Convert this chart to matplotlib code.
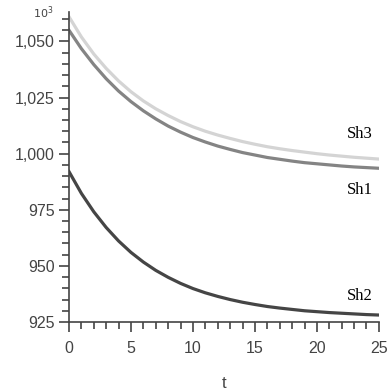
import matplotlib
matplotlib.use("Agg")
import matplotlib.pyplot as plt
from matplotlib.ticker import MultipleLocator, FuncFormatter

t = list(range(0, 26))
sh1 = [1055, 1046.8, 1039.7, 1033.4, 1027.9, 1023.2, 1019.1, 1015.5, 1012.3, 1009.6,
       1007.2, 1005.2, 1003.4, 1001.9, 1000.5, 999.4, 998.3, 997.5, 996.7, 996.0,
       995.5, 995.0, 994.5, 994.1, 993.8, 993.5]
sh2 = [992, 982.3, 974.1, 967.1, 961.1, 956.0, 951.7, 948.0, 944.9, 942.2,
       939.9, 938.0, 936.4, 935.0, 933.8, 932.8, 931.9, 931.2, 930.6, 930.0,
       929.6, 929.2, 928.9, 928.6, 928.3, 928.1]
sh3 = [1061, 1052.0, 1044.4, 1038.0, 1032.4, 1027.6, 1023.5, 1020.0, 1017.0, 1014.3,
       1012.0, 1010.0, 1008.3, 1006.8, 1005.4, 1004.2, 1003.1, 1002.2, 1001.4, 1000.7,
       1000.0, 999.4, 998.9, 998.4, 998.0, 997.6]

fig = plt.figure(figsize=(3.91, 3.92), dpi=100)
ax = fig.add_axes([0.1765, 0.1786, 0.7925, 0.79])

# lines
ax.plot(t, sh3, color="#d4d4d4", lw=2.3)
ax.plot(t, sh1, color="#848484", lw=2.3)
ax.plot(t, sh2, color="#454545", lw=2.3)

ax.set_xlim(0, 25)
ax.set_ylim(925, 1063)

for s in ["top", "right"]:
    ax.spines[s].set_visible(False)
for s in ["left", "bottom"]:
    ax.spines[s].set_color("#444444")
    ax.spines[s].set_linewidth(1.2)

ax.xaxis.set_major_locator(MultipleLocator(5))
ax.xaxis.set_minor_locator(MultipleLocator(1))
ax.yaxis.set_major_locator(MultipleLocator(25))
ax.yaxis.set_minor_locator(MultipleLocator(5))
ax.yaxis.set_major_formatter(FuncFormatter(lambda v, p: f"{int(v):,}"))

ax.tick_params(which="major", length=7, width=1.2, color="#444444",
               labelsize=11.5, labelcolor="#444444")
ax.tick_params(axis="x", which="major", pad=7)
ax.tick_params(which="minor", length=5, width=1.2, color="#444444")
for lab in ax.get_xticklabels() + ax.get_yticklabels():
    lab.set_family("Liberation Sans")

ax.set_xlabel("t", fontsize=12, color="#444444", family="Liberation Sans", labelpad=14)
fig.text(0.085, 0.99, r"$10^3$", fontsize=8, color="#444444",
         ha="left", va="top", family="Liberation Sans")

# curve labels
ax.text(22.4, 1008.8, "Sh3", fontsize=12, family="Liberation Serif", ha="left", va="center")
ax.text(22.4, 984, "Sh1", fontsize=12, family="Liberation Serif", ha="left", va="center")
ax.text(22.4, 936.7, "Sh2", fontsize=12, family="Liberation Serif", ha="left", va="center")

fig.savefig("out.png", dpi=100)
